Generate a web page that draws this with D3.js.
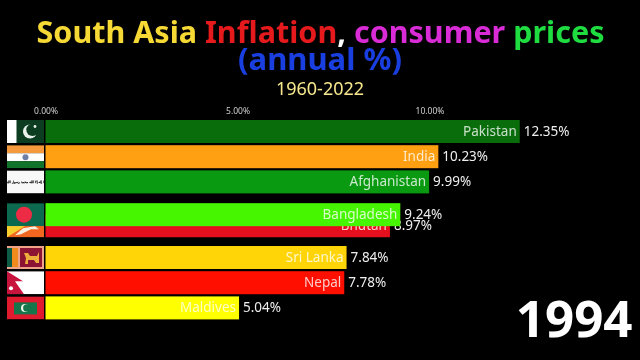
<!DOCTYPE html>
<html>
<head>
<meta charset="utf-8">
<script src="https://cdn.jsdelivr.net/npm/d3@7"></script>
<style>
    html, body { margin: 0; background: #000; overflow: hidden; }
    svg { display: block; filter: blur(0.5px); }
    text { font-family: "Noto Sans", sans-serif; }
</style>
</head>
<body>
<script>
const countries = ["Pakistan", "India", "Afghanistan", "Bangladesh", "Bhutan", "Sri Lanka", "Nepal", "Maldives"];
const flagCodes = ["pk", "in", "af", "bd", "bt", "lk", "np", "mv"];
const values = [12.35, 10.23, 9.99, 9.24, 8.97, 7.84, 7.78, 5.04];
// Bangladesh and Bhutan are swapping places in this frame, so their ranks are fractional
const ranks = [0, 1, 2, 3.3, 3.74, 5, 6, 7];
const barColors = ["#0a6d0c", "#ffa012", "#0a9a12", "#46f500", "#e60f1e", "#ffd508", "#ff0f00", "#ffff00"];
const tickValues = [0, 5, 10];
const titleWords = ["South Asia ", "Inflation", ", ", "consumer ", "prices"];
const titleColors = ["#f6d935", "#e61a1c", "#ffffff", "#d92bd6", "#1fdc40"];
const subtitle = "(annual %)";
const period = "1960-2022";
const currentYear = "1994";

const width = 640;
const height = 360;
const barHeight = 23;

const svg = d3.select("body").append("svg")
    .attr("width", width)
    .attr("height", height);

svg.append("rect")
    .attr("width", width)
    .attr("height", height)
    .attr("fill", "#000");

// Title
svg.append("text")
    .attr("x", 320.5)
    .attr("y", 43)
    .attr("text-anchor", "middle")
    .style("font-size", "30.5px")
    .style("font-weight", 700)
    .selectAll("tspan")
    .data(titleWords)
    .join("tspan")
    .attr("fill", (d, i) => titleColors[i])
    .attr("xml:space", "preserve")
    .text(d => d);

svg.append("text")
    .attr("x", 320)
    .attr("y", 70)
    .attr("text-anchor", "middle")
    .attr("fill", "#1a3fe0")
    .style("font-size", "31px")
    .style("font-weight", 700)
    .text(subtitle);

svg.append("text")
    .attr("x", 320)
    .attr("y", 94.5)
    .attr("text-anchor", "middle")
    .attr("fill", "#f6e78e")
    .style("font-size", "18px")
    .text(period);

const x = d3.scaleLinear()
    .domain([0, 10])
    .range([45.5, 429.5]);

const y = d3.scaleLinear()
    .domain([0, 7])
    .range([120, 296.4]);

const pct = d3.format(".2f");

const xAxis = svg.append("g")
    .attr("transform", "translate(0,117)")
    .call(d3.axisTop(x).tickValues(tickValues).tickSize(0).tickFormat(d => pct(d) + "%"));
xAxis.select(".domain").remove();
xAxis.selectAll("text")
    .attr("fill", "#cfcfcf")
    .style("font-family", '"Noto Sans", sans-serif')
    .style("font-size", "8.5px");

// Small flags, each drawn in a 37x23 box
const flags = {
    pk(g) {
        g.append("rect").attr("width", 37).attr("height", 23).attr("fill", "#0c3d20");
        g.append("rect").attr("width", 9.5).attr("height", 23).attr("fill", "#fff");
        g.append("circle").attr("cx", 23).attr("cy", 11.5).attr("r", 7).attr("fill", "#e8f2ea");
        g.append("circle").attr("cx", 25.5).attr("cy", 9.8).attr("r", 6.2).attr("fill", "#0c3d20");
        g.append("circle").attr("cx", 28).attr("cy", 6.5).attr("r", 1.4).attr("fill", "#e8f2ea");
    },
    in(g) {
        g.append("rect").attr("width", 37).attr("height", 8).attr("fill", "#f59a3c");
        g.append("rect").attr("y", 8).attr("width", 37).attr("height", 8).attr("fill", "#fff");
        g.append("rect").attr("y", 16).attr("width", 37).attr("height", 7).attr("fill", "#11742a");
        g.append("circle").attr("cx", 18.5).attr("cy", 12).attr("r", 3).attr("fill", "#6f7fa8");
    },
    af(g) {
        g.append("rect").attr("width", 37).attr("height", 23).attr("fill", "#f8f8f8");
        g.append("text")
            .attr("x", 18.5)
            .attr("y", 13)
            .attr("text-anchor", "middle")
            .attr("fill", "#222")
            .attr("stroke", "#222")
            .attr("stroke-width", 0.25)
            .style("font-family", '"DejaVu Sans", sans-serif')
            .style("font-size", "3.2px")
            .text("لا إله إلا الله محمد رسول الله");
    },
    bd(g) {
        g.append("rect").attr("width", 37).attr("height", 23).attr("fill", "#0c6a4e");
        g.append("circle").attr("cx", 17).attr("cy", 11.5).attr("r", 8).attr("fill", "#ee2b44");
    },
    bt(g) {
        g.append("rect").attr("width", 37).attr("height", 23).attr("fill", "#f9cf2e");
        g.append("path").attr("d", "M37 0V23H0Z").attr("fill", "#f2661f");
        g.append("path").attr("d", "M8 21L16 14L28 12L32 15L24 15L14 20Z").attr("fill", "#f7f0e0");
    },
    lk(g) {
        g.append("rect").attr("width", 37).attr("height", 23).attr("fill", "#efa48a");
        g.append("rect").attr("x", 0).attr("y", 2).attr("width", 5).attr("height", 19).attr("fill", "#0d5c46");
        g.append("rect").attr("x", 5).attr("y", 2).attr("width", 6).attr("height", 19).attr("fill", "#f08a1c");
        g.append("rect").attr("x", 13).attr("y", 2).attr("width", 22).attr("height", 19).attr("fill", "#8c1432");
        g.append("path").attr("d", "M17 7H21L23 10H30L32 6V17H29L27 14H21V18H18L19 12Z").attr("fill", "#eeae3c");
    },
    np(g) {
        g.append("rect").attr("width", 37).attr("height", 23).attr("fill", "#fff");
        g.append("path").attr("d", "M0 0L16 10H8L17 23H0Z").attr("fill", "#c8143c");
        g.append("circle").attr("cx", 4).attr("cy", 17).attr("r", 2).attr("fill", "#fff");
    },
    mv(g) {
        g.append("rect").attr("width", 37).attr("height", 23).attr("fill", "#e01b2f");
        g.append("rect").attr("x", 7).attr("y", 6).attr("width", 23).attr("height", 12).attr("fill", "#14764a");
        g.append("circle").attr("cx", 18).attr("cy", 11.5).attr("r", 4).attr("fill", "#eef6e8");
        g.append("circle").attr("cx", 19.8).attr("cy", 11.5).attr("r", 3.7).attr("fill", "#14764a");
    }
};

const rows = countries.map((name, i) => ({
    name,
    value: values[i],
    rank: ranks[i],
    color: barColors[i],
    code: flagCodes[i]
}));

// Lower ranks go first so that Bangladesh ends up over Bhutan
const row = svg.append("g")
    .selectAll("g")
    .data(rows.slice().reverse())
    .join("g")
    .attr("transform", d => `translate(0,${y(d.rank)})`);

row.append("rect")
    .attr("x", x(0))
    .attr("width", d => x(d.value) - x(0))
    .attr("height", barHeight)
    .attr("fill", d => d.color);

row.append("text")
    .attr("x", d => x(d.value) - 3)
    .attr("y", barHeight / 2 - 0.5)
    .attr("dy", "0.35em")
    .attr("text-anchor", "end")
    .attr("fill", "#fff")
    .attr("fill-opacity", 0.78)
    .style("font-size", "13.5px")
    .text(d => d.name);

row.append("text")
    .attr("x", d => x(d.value) + 4)
    .attr("y", barHeight / 2 - 0.5)
    .attr("dy", "0.35em")
    .attr("fill", "#eee")
    .style("font-size", "13.5px")
    .text(d => pct(d.value) + "%");

const clip = svg.append("defs").append("clipPath").attr("id", "flag-clip");
clip.append("rect").attr("width", 37).attr("height", barHeight);

row.append("g")
    .attr("transform", "translate(7,0)")
    .attr("clip-path", "url(#flag-clip)")
    .each(function(d) { flags[d.code](d3.select(this)); });

svg.append("text")
    .attr("x", 632.5)
    .attr("y", 337)
    .attr("text-anchor", "end")
    .attr("fill", "#fff")
    .style("font-size", "51px")
    .style("font-weight", 700)
    .text(currentYear);
</script>
</body>
</html>
